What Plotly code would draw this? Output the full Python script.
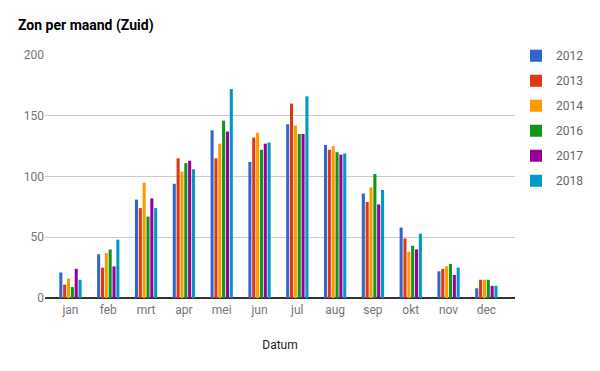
import plotly.graph_objects as go

months = ["jan", "feb", "mrt", "apr", "mei", "jun", "jul", "aug", "sep", "okt", "nov", "dec"]
years = ["2012", "2013", "2014", "2016", "2017", "2018"]
colors = ["#3366cc", "#dc3912", "#ff9900", "#109618", "#990099", "#0099c6"]

v2012 = [21, 36, 81, 94, 138, 112, 143, 126, 86, 58, 22, 8]
v2013 = [11, 25, 74, 115, 115, 132, 160, 122, 79, 49, 24, 15]
v2014 = [16, 37, 95, 104, 127, 136, 142, 125, 91, 38, 26, 15]
v2016 = [9, 40, 67, 111, 146, 122, 135, 120, 102, 43, 28, 15]
v2017 = [24, 26, 82, 113, 137, 127, 135, 118, 77, 40, 19, 10]
v2018 = [15, 48, 74, 106, 172, 128, 166, 119, 89, 53, 25, 10]
series = [v2012, v2013, v2014, v2016, v2017, v2018]

fig = go.Figure()
for name, vals, col in zip(years, series, colors):
    fig.add_trace(go.Bar(x=months, y=vals, name=name, marker_color=col,
                         marker_line_width=0, legendgroup=name))

# page body has an 8px default margin; figure sized to fit the viewport
W, H = 592, 363
fig.update_layout(
    width=W, height=H,
    margin=dict(l=37, r=84, t=47, b=73),
    paper_bgcolor="white", plot_bgcolor="white",
    barmode="group", bargap=0.39, bargroupgap=0.2,
    font=dict(family="Roboto, Arial, sans-serif", size=12, color="#757575"),
    title=dict(text="<b>Zon per maand (Zuid)</b>", x=10 / W, xanchor="left",
               y=1 - 17 / H, yanchor="middle", yref="container",
               font=dict(family="Roboto, Arial, sans-serif", size=14, color="#000000")),
    showlegend=True,
    legend=dict(x=1.0, xanchor="left", y=1.057, yanchor="top",
                traceorder="grouped", tracegroupgap=6,
                font=dict(size=12, color="#666666")),
    xaxis=dict(range=[-0.673, 11.757], showgrid=False, ticks="",
               title=dict(text="Datum", font=dict(size=12, color="#222222"), standoff=24),
               tickfont=dict(size=12, color="#757575"), showline=False,
               ticklabelstandoff=3),
    yaxis=dict(range=[0, 200], dtick=50, gridcolor="#cccccc", gridwidth=1,
               zeroline=True, zerolinecolor="#333333", zerolinewidth=2,
               tickfont=dict(size=12, color="#757575"), ticks="", showline=False),
)

fig.write_html("out.html")
